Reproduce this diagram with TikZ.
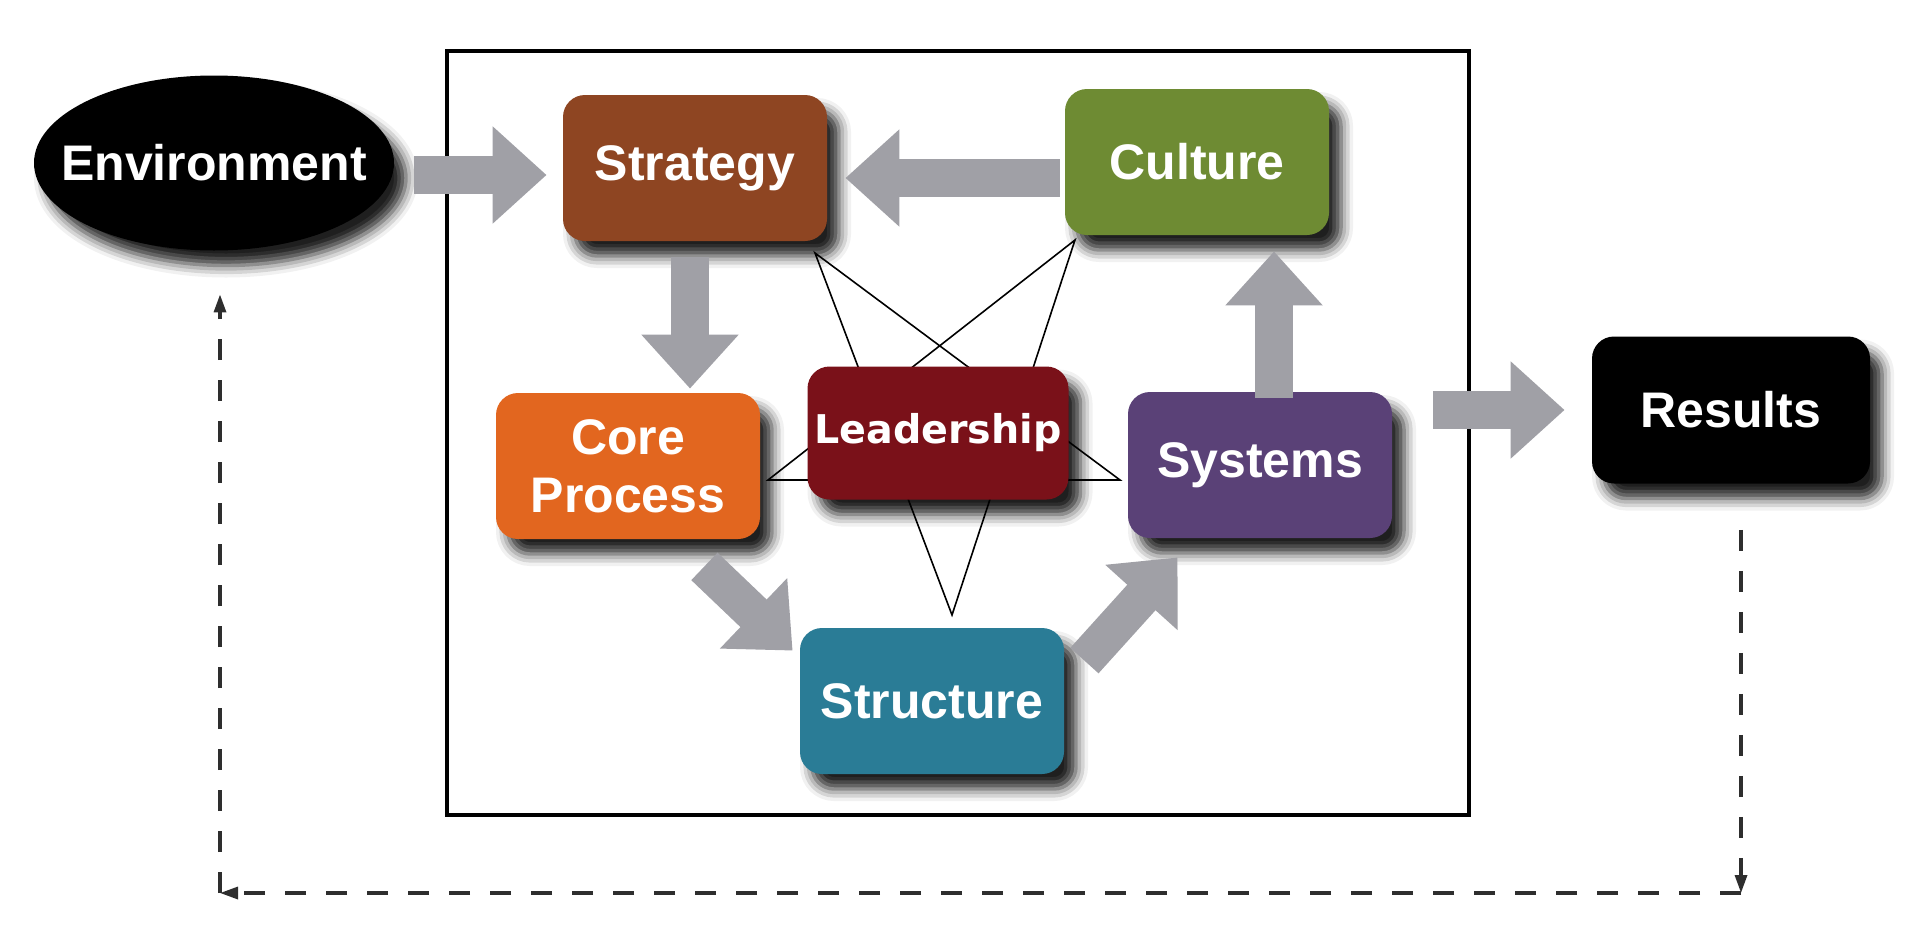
\documentclass[tikz,border=0pt]{standalone}
\usepackage{fontspec}
\setmainfont{Liberation Sans}
\newfontfamily\leadfont{DejaVu Sans}
\usetikzlibrary{shapes.geometric,arrows.meta,shadows.blur}
\definecolor{strategyc}{HTML}{8E4522}
\definecolor{culturec}{HTML}{6E8B33}
\definecolor{corec}{HTML}{E2661F}
\definecolor{leadc}{HTML}{7A1119}
\definecolor{sysc}{HTML}{5A4177}
\definecolor{structc}{HTML}{2A7C96}
\definecolor{arrowgray}{HTML}{A0A0A6}
\definecolor{dashgray}{HTML}{2E2E2E}
\tikzset{
  shd/.style={blur shadow={shadow xshift=6pt, shadow yshift=-7.5pt, shadow blur radius=6pt, shadow opacity=88}},
  blk/.style={rectangle, rounded corners=11pt, minimum width=132pt, minimum height=73pt, inner sep=0pt,
    text=white, font=\bfseries\fontsize{25pt}{25pt}\selectfont, align=center, shd},
  bigarrow/.style={draw=arrowgray, line width=19pt, -{Triangle[length=27pt,width=47pt]}},
  dashline/.style={draw=dashgray, line width=1.6pt, dash pattern=on 10.5pt off 10pt, -{Triangle[length=9pt,width=6pt]}},
  starline/.style={draw=black, line width=0.8pt, line join=miter}
}
\begin{document}
\begin{tikzpicture}[x=0.5pt, y=-0.5pt]
\useasboundingbox (0,0) rectangle (1920,942);
% frame
\node[draw=black, line width=1.7pt, minimum width=511pt, minimum height=382pt, inner sep=0pt] (frame) at (958,433) {};
% star
\coordinate (sTL) at (815,253);
\coordinate (sTR) at (1075,240);
\coordinate (sL) at (768,480);
\coordinate (sR) at (1120,480);
\coordinate (sB) at (952,615);
\draw[starline] (sTL) -- (sB) -- (sTR) -- (sL) -- (sR) -- cycle;
% nodes
\node[ellipse, fill=black, minimum width=180pt, minimum height=87.5pt, inner sep=0pt, text=white,
  font=\bfseries\fontsize{25pt}{25pt}\selectfont, shd] (env) at (214,163) {\makebox[0pt]{Environment}};
\node[blk, fill=strategyc] (strat) at (695,168) {Strategy};
\node[blk, fill=culturec] (cult) at (1197,162) {Culture};
\node[blk, fill=corec] (core) at (628,466) {Core\\[4pt]Process};
\node[blk, fill=leadc, minimum width=130.5pt, minimum height=66.5pt, font=\leadfont\bfseries\fontsize{19.8pt}{20pt}\selectfont] (lead) at (938,433) {Leadership};
\node[blk, fill=sysc] (sys) at (1260,465) {Systems};
\node[blk, fill=structc] (struct) at (932,701) {Structure};
\node[blk, fill=black, minimum width=139pt, minimum height=73.5pt] (res) at (1731,410) {Results};
% big arrows
\draw[bigarrow, shorten <=10pt, shorten >=8pt] ([yshift=-6pt]env.east) -- ([yshift=-3.5pt]strat.west);
\draw[bigarrow, shorten <=2.5pt, shorten >=9pt] ([yshift=-8pt]cult.west) -- ([yshift=-5pt]strat.east);
\draw[bigarrow, shorten <=8pt, shorten >=2pt] ([xshift=-2.5pt]strat.south) -- ([xshift=-2.5pt]strat.south |- core.north);
\draw[bigarrow, shorten <=-3pt, shorten >=8pt] ([xshift=7pt]sys.north) -- ([xshift=7pt]sys.north |- cult.south);
\draw[bigarrow] ([xshift=-28pt,yshift=-13.5pt]core.south east) -- ([xshift=-3.5pt,yshift=-11.5pt]struct.north west);
\draw[bigarrow] ([xshift=10pt,yshift=-16.5pt]struct.north east) -- ([xshift=25pt,yshift=-9.5pt]sys.south west);
\draw[bigarrow, shorten <=20.5pt, shorten >=13.5pt] (sys.east |- res.west) -- (res.west);
% feedback dashed loop
\coordinate (rb) at (1741,893);
\coordinate (lb) at (220,893);
\draw[dashline, shorten <=23pt] ([xshift=5pt]res.south) -- (rb);
\draw[dashline] (rb) -- (lb);
\draw[dashline, shorten >=21.75pt] (lb) -- (lb |- env.south);
\end{tikzpicture}
\end{document}
